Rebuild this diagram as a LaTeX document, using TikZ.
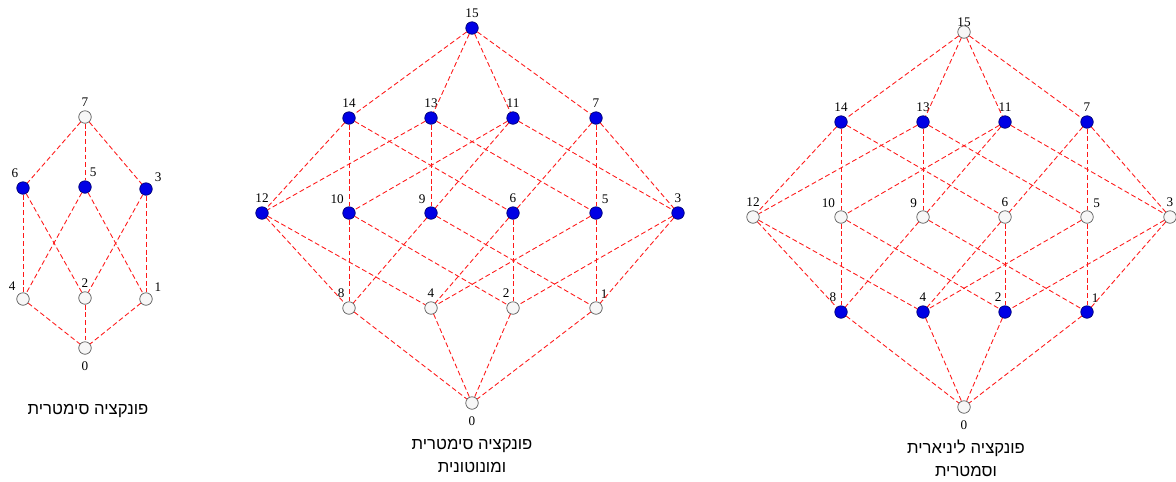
\documentclass[tikz,border=0pt]{standalone}
\usepackage{fontspec}
\setmainfont{Liberation Serif}
\newfontfamily\hebfont[Script=Hebrew]{Liberation Sans}
\TeXXeTstate=1

\tikzset{
  hollow/.style={circle, draw=black!65, fill=black!3, minimum size=0.25cm, inner sep=0pt},
  filled/.style={circle, draw=blue!45!black, fill=blue!90!black, minimum size=0.25cm, inner sep=0pt},
  lbl/.style={font=\fontsize{7.5}{8}\selectfont, inner sep=1pt},
  link/.style={red!90!white, dash pattern=on 2.8pt off 1.6pt, line width=0.5pt},
  caption/.style={font=\hebfont\fontsize{9.5}{13}\selectfont, align=center}
}

\begin{document}
\begin{tikzpicture}[x=0.02cm, y=-0.02cm, every label/.style={lbl}, label distance=1pt]
\useasboundingbox (0,0) rectangle (1176,481);

% symmetric, 3 variables
\node[hollow] (a7) at (85,117) [label=above:7] {};
\node[filled] (a6) at (23,188) [label=108:6] {};
\node[filled] (a5) at (85,187) [label=70:5] {};
\node[filled] (a3) at (146,189) [label=35:3] {};
\node[hollow] (a4) at (23,299) [label=130:4] {};
\node[hollow] (a2) at (85,298) [label=above:2] {};
\node[hollow] (a1) at (146,299) [label=40:1] {};
\node[hollow] (a0) at (85,348) [label={[label distance=3pt]below:0}] {};
\foreach \u/\v in {7/6,7/5,7/3,6/4,6/2,5/4,5/1,3/2,3/1,4/0,2/0,1/0}
  \draw[link] (a\u) -- (a\v);
\node[caption] (capa) at (88,411) {\beginR פונקציה סימטרית\endR};

% symmetric and monotone
\node[filled] (b15) at (472,28) [label=above:15] {};
\node[filled] (b14) at (349,118) [label=above:14] {};
\node[filled] (b13) at (431,118) [label=above:13] {};
\node[filled] (b11) at (513,118) [label=above:11] {};
\node[filled] (b7) at (596,118) [label=above:7] {};
\node[filled] (b12) at (262,213) [label=above:12] {};
\node[filled] (b10) at (349,213) [label=112:10] {};
\node[filled] (b9) at (431,213) [label=115:9] {};
\node[filled] (b6) at (513,213) [label=above:6] {};
\node[filled] (b5) at (596,213) [label=63:5] {};
\node[filled] (b3) at (678,213) [label=above:3] {};
\node[hollow] (b8) at (349,308) [label=107:8] {};
\node[hollow] (b4) at (431,308) [label=above:4] {};
\node[hollow] (b2) at (513,308) [label=100:2] {};
\node[hollow] (b1) at (596,308) [label=70:1] {};
\node[hollow] (b0) at (472,403) [label={[label distance=3pt]below:0}] {};
\node[caption] (capb) at (472,456) {\beginR פונקציה סימטרית\endR\\\beginR ומונוטונית\endR};

% linear and symmetric
\node[hollow] (c15) at (964,32) [label={[label distance=-2pt]above:15}] {};
\node[filled] (c14) at (841,122) [label=above:14] {};
\node[filled] (c13) at (923,122) [label=above:13] {};
\node[filled] (c11) at (1005,122) [label=above:11] {};
\node[filled] (c7) at (1087,122) [label=above:7] {};
\node[hollow] (c12) at (753,217) [label=above:12] {};
\node[hollow] (c10) at (841,217) [label=118:10] {};
\node[hollow] (c9) at (923,217) [label=118:9] {};
\node[hollow] (c6) at (1005,217) [label=above:6] {};
\node[hollow] (c5) at (1087,217) [label=60:5] {};
\node[hollow] (c3) at (1170,217) [label=above:3] {};
\node[filled] (c8) at (841,312) [label=108:8] {};
\node[filled] (c4) at (923,312) [label=above:4] {};
\node[filled] (c2) at (1005,312) [label=100:2] {};
\node[filled] (c1) at (1087,312) [label=70:1] {};
\node[hollow] (c0) at (964,407) [label={[label distance=3pt]below:0}] {};
\node[caption] (capc) at (966,458) {\beginR פונקציה ליניארית\endR\\\beginR וסמטרית\endR};

\foreach \p in {b,c}
  \foreach \u/\v in {15/14,15/13,15/11,15/7,
                     14/12,14/10,14/6,13/12,13/9,13/5,11/10,11/9,11/3,7/6,7/5,7/3,
                     12/8,12/4,10/8,10/2,9/8,9/1,6/4,6/2,5/4,5/1,3/2,3/1,
                     8/0,4/0,2/0,1/0}
    \draw[link] (\p\u) -- (\p\v);
\end{tikzpicture}
\end{document}
